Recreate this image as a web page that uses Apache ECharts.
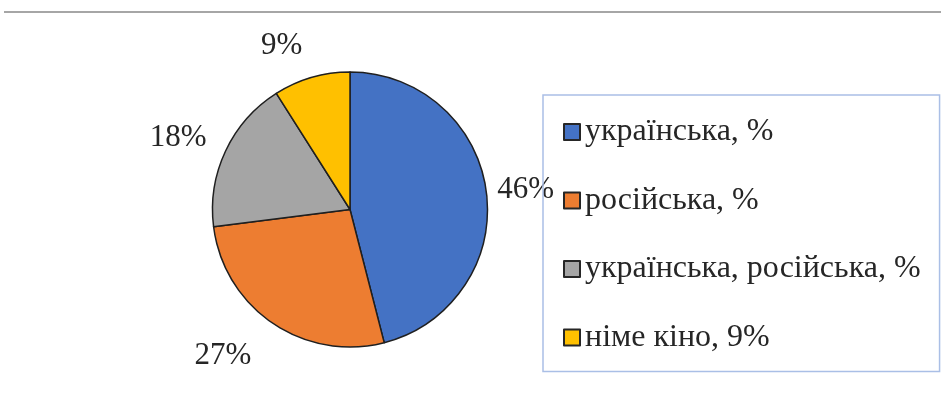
<!DOCTYPE html>
<html>
<head>
<meta charset="utf-8">
<script src="https://cdn.jsdelivr.net/npm/echarts@6/dist/echarts.min.js"></script>
<style>
  html, body { margin: 0; padding: 0; background: #fff; }
  #chart { width: 941px; height: 400px; }
</style>
</head>
<body>
<div id="chart"></div>
<script>
var categories = ['українська, %', 'російська, %', 'українська, російська, %', 'німе кіно, 9%'];
var shares = [46, 27, 18, 9];
var colors = ['#4472C4', '#ED7D31', '#A5A5A5', '#FFC000'];

var myChart = echarts.init(document.getElementById('chart'));

// label offsets per slice (like excel's "best fit")
var lineLen = [16, 40, 31, 33];
var lineLen2 = [-10, -6, -14, -5];

var pieData = [];
for (var i = 0; i < categories.length; i++) {
    pieData.push({
        name: categories[i],
        value: shares[i],
        itemStyle: { color: colors[i] },
        labelLine: { show: false, length: lineLen[i], length2: lineLen2[i] }
    });
}

myChart.setOption({
    backgroundColor: '#ffffff',
    animation: false,
    graphic: [{
        type: 'line',
        shape: { x1: 4, y1: 12, x2: 941, y2: 12 },
        style: { stroke: '#a6a6a6', lineWidth: 2 }
    }],
    legend: {
        orient: 'vertical',
        left: 543,
        top: 95,
        padding: [21, 19, 18, 20],
        itemGap: 36.5,
        itemWidth: 16,
        itemHeight: 16,
        icon: 'rect',
        borderColor: '#aabfe6',
        borderWidth: 1.5,
        itemStyle: { borderColor: '#262626', borderWidth: 2 },
        textStyle: {
            fontFamily: 'Liberation Serif',
            fontSize: 32,
            lineHeight: 32,
            color: '#262626'
        },
        data: categories
    },
    series: [{
        type: 'pie',
        center: [350, 209.5],
        radius: 137.5,
        startAngle: 90,
        clockwise: true,
        avoidLabelOverlap: false,
        itemStyle: { borderColor: '#1f1f1f', borderWidth: 1.5 },
        label: {
            show: true,
            position: 'outside',
            formatter: '{c}%',
            fontFamily: 'Liberation Serif',
            fontSize: 31,
            color: '#262626',
            distanceToLabelLine: 5
        },
        labelLine: { show: false },
        emphasis: { disabled: true },
        data: pieData
    }]
});
</script>
</body>
</html>
